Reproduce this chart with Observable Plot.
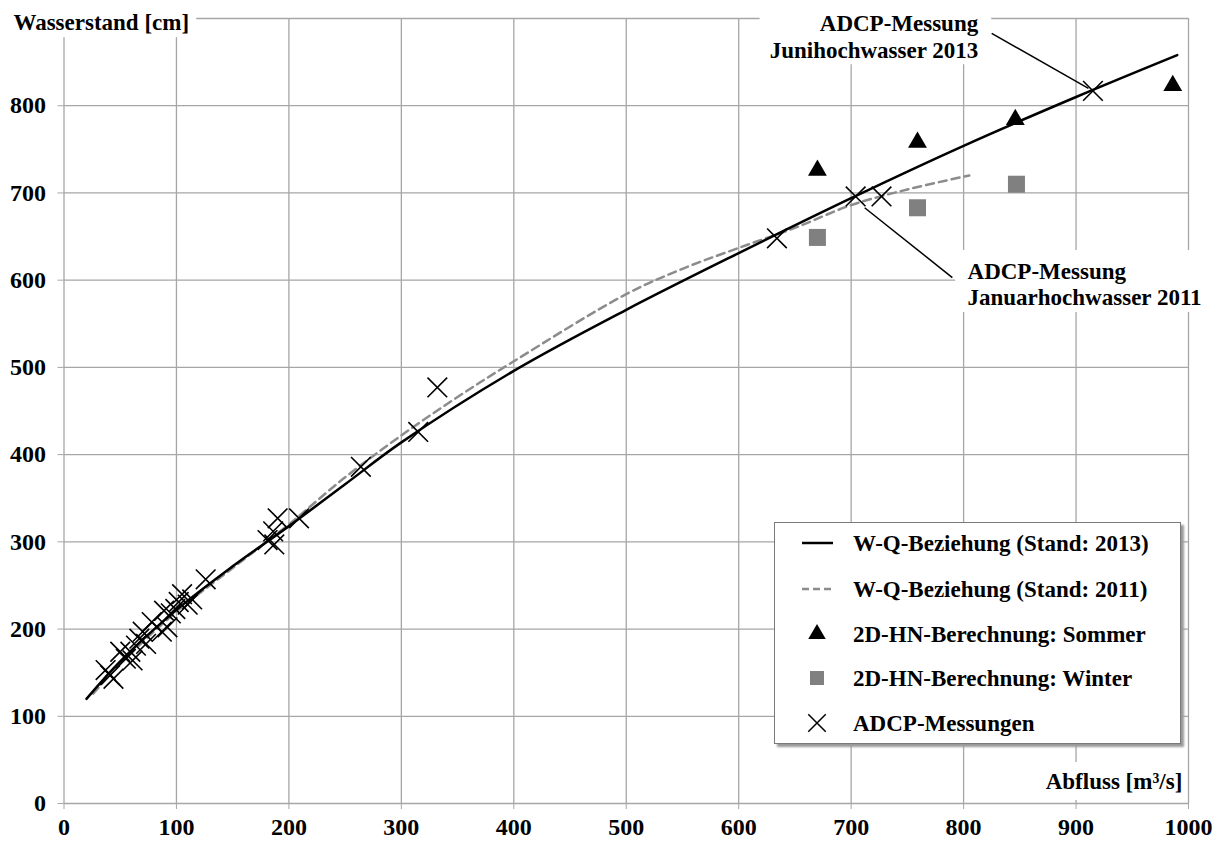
<!DOCTYPE html>
<html><head><meta charset="utf-8">
<script src="https://cdn.jsdelivr.net/npm/d3@7"></script>
<script src="https://cdn.jsdelivr.net/npm/@observablehq/plot@0.6"></script>
<style>
body{margin:0;background:#fff;}
#wrap{position:relative;width:1220px;height:841px;font-family:"Liberation Serif","Times New Roman",serif;font-weight:bold;}
#legend{position:absolute;left:774px;top:522px;width:405px;height:220px;background:#fff;border:1.5px solid #7a7a7a;box-shadow:3px 3px 2px #9a9a9a;}
</style></head><body><div id="wrap"></div>
<script>
// ---- data ----
const xTicks = [0,100,200,300,400,500,600,700,800,900,1000];
const yTicks = [0,100,200,300,400,500,600,700,800];
const yGrid = [0,100,200,300,400,500,600,700,800,900];

// W-Q-Beziehung (Stand: 2013)
const q2013 = [20,50,100,150,200,250,300,400,500,600,700,800,900,990];
const w2013 = [120,163,222,272,318,366,414,496,566,631,694,754,810,858];
// W-Q-Beziehung (Stand: 2011)
const q2011 = [26,50,100,150,200,250,300,350,400,500,550,600,650,700,750,805];
const w2011 = [126,160,220,270,320,374,422,466,507,584,613,637,660,686,704,720];

// 2D-HN-Berechnung
const qSommer = [670,759,846,986];
const wSommer = [726,758,784,823];
const qWinter = [670,759,847];
const wWinter = [649,683,710];

// ADCP-Messungen
const qAdcp = [37,41,44,50,55,59,61,64,67,70,73,78,87,89,92,95,99,102,105,110,114,126,
               181,186,187,190,209,264,315,332,634,704,727,915];
const wAdcp = [153,147,143,174,166,174,164,181,189,197,183,208,197,221,202,218,223,231,240,228,234,257,
               302,312,297,327,327,386,426,477,648,696,696,817];

const legendLabels = ["W-Q-Beziehung (Stand: 2013)","W-Q-Beziehung (Stand: 2011)","2D-HN-Berechnung: Sommer","2D-HN-Berechnung: Winter","ADCP-Messungen"];

// annotations (data units)
const ann1 = {text:"ADCP-Messung\nJunihochwasser 2013", x:813, y:855};
const ann2 = {text:"ADCP-Messung\nJanuarhochwasser 2011", x:803.5, y:571};
const leaders = [{x1:825, y1:883, x2:911, y2:820},{x1:712, y1:683, x2:790, y2:603}];
// white label backgrounds (data units)
const boxes = [
  {x1:-60, x2:118, y1:878, y2:925},
  {x1:619, x2:825, y1:847, y2:925},
  {x1:793, x2:1025, y1:563, y2:634},
  {x1:862, x2:998, y1:3.5, y2:47}
];

// ---- build ----
const zip = (a,b) => a.map((v,i)=>({q:v,w:b[i]}));
const d2013 = zip(q2013,w2013), d2011 = zip(q2011,w2011);
const dS = zip(qSommer,wSommer), dW = zip(qWinter,wWinter), dA = zip(qAdcp,wAdcp);
const grid = "#a6a6a6";
const FS = 23, AFS = 24;

const chart = Plot.plot({
  width:1220, height:841,
  marginLeft:63.5, marginRight:32, marginTop:18, marginBottom:38,
  x:{domain:[0,1000]}, y:{domain:[0,900]},
  style:{fontFamily:'"Liberation Serif","Times New Roman",serif', fontWeight:"bold", fontSize:FS+"px", color:"black", background:"white", overflow:"visible"},
  marks:[
    Plot.ruleX(xTicks,{stroke:grid, strokeWidth:1.3}),
    Plot.ruleY(yGrid,{stroke:grid, strokeWidth:1.3}),
    Plot.rect(boxes,{x1:"x1",x2:"x2",y1:"y1",y2:"y2",fill:"white"}),
    Plot.axisX({ticks:xTicks, tickSize:6, tickPadding:8, stroke:grid, fill:"black", label:null, fontSize:AFS, fontWeight:"bold", tickFormat:d=>String(d)}),
    Plot.axisY({ticks:yTicks, tickSize:6, tickPadding:12, stroke:grid, fill:"black", label:null, fontSize:AFS, fontWeight:"bold", tickFormat:d=>String(d)}),
    Plot.line(d2011,{x:"q",y:"w",curve:"catmull-rom",stroke:"#8c8c8c",strokeWidth:2.5,strokeDasharray:"8,5"}),
    Plot.line(d2013,{x:"q",y:"w",curve:"catmull-rom",stroke:"black",strokeWidth:2.5}),
    Plot.dot(dW,{x:"q",y:"w",symbol:"square",r:9.6,fill:"#808080",stroke:"none"}),
    Plot.dot(dS,{x:"q",y:"w",symbol:"triangle",r:7,fill:"black",stroke:"none"}),
    Plot.dot(dA,{x:"q",y:"w",symbol:"times",r:9,stroke:"black",strokeWidth:1.6}),
    Plot.link(leaders,{x1:"x1",y1:"y1",x2:"x2",y2:"y2",stroke:"black",strokeWidth:1.5}),
    Plot.text([ann1],{x:"x",y:"y",text:"text",textAnchor:"end",lineAnchor:"bottom",lineHeight:1.15,fontSize:FS,fill:"black"}),
    Plot.text([ann2],{x:"x",y:"y",text:"text",textAnchor:"start",lineAnchor:"bottom",lineHeight:1.17,fontSize:FS,fill:"black"}),
    Plot.text(["Wasserstand [cm]"],{x:-45,y:887,text:d=>d,textAnchor:"start",lineAnchor:"bottom",fontSize:FS,fill:"black"}),
    Plot.text(["Abfluss [m³/s]"],{x:994.5,y:17,text:d=>d,textAnchor:"end",lineAnchor:"bottom",fontSize:FS,fill:"black"})
  ]
});
const wrap = document.getElementById("wrap");
wrap.appendChild(chart);

// legend
const lg = document.createElement("div");
lg.id = "legend";
wrap.appendChild(lg);
const svg = d3.select(lg).append("svg").attr("width",405).attr("height",220)
  .style("font-family",'"Liberation Serif","Times New Roman",serif').style("font-weight","bold").style("font-size",FS+"px");
const rows = [20,66,111,155,200];
const sx = 42;
svg.append("line").attr("x1",27).attr("x2",58).attr("y1",rows[0]).attr("y2",rows[0]).attr("stroke","black").attr("stroke-width",2.5);
svg.append("line").attr("x1",27).attr("x2",58).attr("y1",rows[1]).attr("y2",rows[1]).attr("stroke","#8c8c8c").attr("stroke-width",2.5).attr("stroke-dasharray","7,4");
svg.append("path").attr("transform",`translate(${sx},${rows[2]})`).attr("d",d3.symbol(d3.symbolTriangle, Math.PI*6.5*6.5)()).attr("fill","black");
svg.append("path").attr("transform",`translate(${sx},${rows[3]})`).attr("d",d3.symbol(d3.symbolSquare, 14*14)()).attr("fill","#808080");
svg.append("path").attr("transform",`translate(${sx},${rows[4]})`).attr("d",d3.symbol(d3.symbolTimes, Math.PI*8*8)()).attr("fill","none").attr("stroke","black").attr("stroke-width",1.5);
svg.selectAll("text.l").data(legendLabels).join("text").attr("x",78).attr("y",(d,i)=>rows[i]).attr("dy","0.35em").text(d=>d);
</script>
</body></html>
